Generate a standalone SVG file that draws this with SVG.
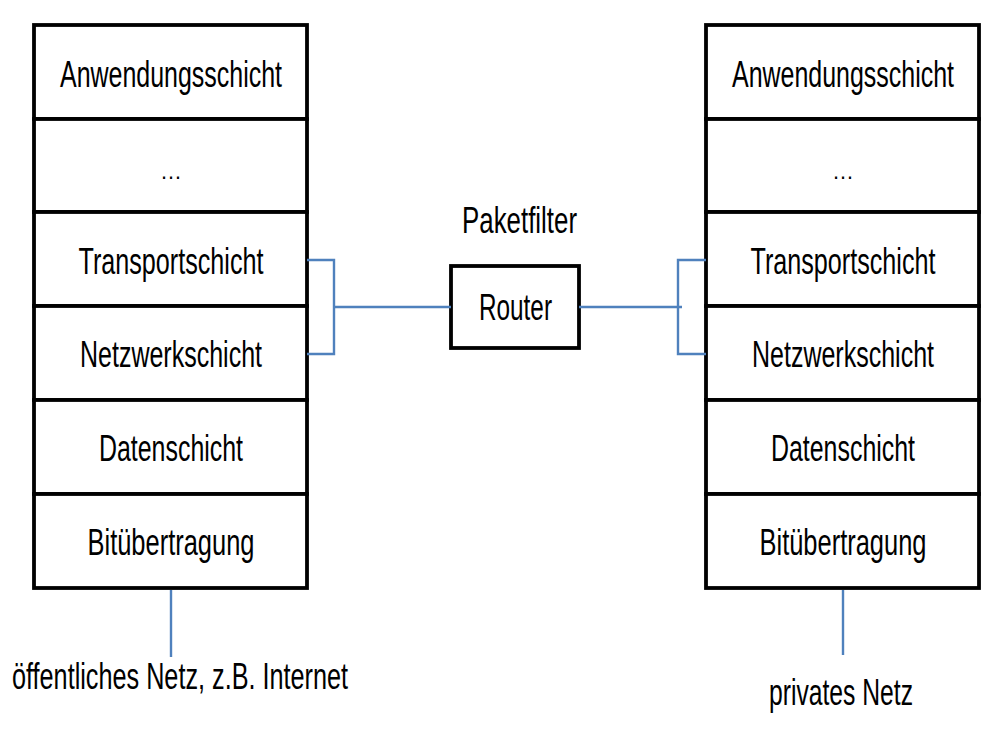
<svg xmlns="http://www.w3.org/2000/svg" width="998" height="738" viewBox="0 0 998 738">
<style>
.layer{fill:#fff;stroke:#000;stroke-width:3.8}
.t{font-family:"Liberation Sans",Arial,sans-serif;font-size:30px;fill:#000;text-anchor:middle}
.d{font-family:"Liberation Sans",Arial,sans-serif;font-size:22px;fill:#000;text-anchor:middle}
.c{fill:none;stroke:#4f81bd;stroke-width:2.4}
</style>
<rect width="998" height="738" fill="#fff"/>
<g id="left-stack">
<g id="l-app"><rect class="layer" x="34" y="25" width="273" height="94"/><text class="t" transform="translate(171,87) scale(1,1.2)" textLength="222" lengthAdjust="spacingAndGlyphs">Anwendungsschicht</text></g>
<g id="l-dots"><rect class="layer" x="34" y="119" width="273" height="93"/><text class="d" x="171" y="179">…</text></g>
<g id="l-trans"><rect class="layer" x="34" y="212" width="273" height="94"/><text class="t" transform="translate(171,274) scale(1,1.2)" textLength="185" lengthAdjust="spacingAndGlyphs">Transportschicht</text></g>
<g id="l-net"><rect class="layer" x="34" y="306" width="273" height="94"/><text class="t" transform="translate(171,367) scale(1,1.2)" textLength="182" lengthAdjust="spacingAndGlyphs">Netzwerkschicht</text></g>
<g id="l-data"><rect class="layer" x="34" y="400" width="273" height="94"/><text class="t" transform="translate(171,461) scale(1,1.2)" textLength="144" lengthAdjust="spacingAndGlyphs">Datenschicht</text></g>
<g id="l-bit"><rect class="layer" x="34" y="494" width="273" height="94"/><text class="t" transform="translate(171,555) scale(1,1.2)" textLength="167" lengthAdjust="spacingAndGlyphs">Bitübertragung</text></g>
</g>
<g id="right-stack">
<g id="r-app"><rect class="layer" x="706" y="25" width="273" height="94"/><text class="t" transform="translate(843,87) scale(1,1.2)" textLength="222" lengthAdjust="spacingAndGlyphs">Anwendungsschicht</text></g>
<g id="r-dots"><rect class="layer" x="706" y="119" width="273" height="93"/><text class="d" x="843" y="179">…</text></g>
<g id="r-trans"><rect class="layer" x="706" y="212" width="273" height="94"/><text class="t" transform="translate(843,274) scale(1,1.2)" textLength="185" lengthAdjust="spacingAndGlyphs">Transportschicht</text></g>
<g id="r-net"><rect class="layer" x="706" y="306" width="273" height="94"/><text class="t" transform="translate(843,367) scale(1,1.2)" textLength="182" lengthAdjust="spacingAndGlyphs">Netzwerkschicht</text></g>
<g id="r-data"><rect class="layer" x="706" y="400" width="273" height="94"/><text class="t" transform="translate(843,461) scale(1,1.2)" textLength="144" lengthAdjust="spacingAndGlyphs">Datenschicht</text></g>
<g id="r-bit"><rect class="layer" x="706" y="494" width="273" height="94"/><text class="t" transform="translate(843,555) scale(1,1.2)" textLength="167" lengthAdjust="spacingAndGlyphs">Bitübertragung</text></g>
</g>
<g id="router"><rect class="layer" x="451" y="266" width="128" height="82"/><text class="t" transform="translate(515.5,320) scale(1,1.2)" textLength="73" lengthAdjust="spacingAndGlyphs">Router</text></g>
<g id="label-paketfilter"><text class="t" transform="translate(519.5,233) scale(1,1.2)" textLength="115" lengthAdjust="spacingAndGlyphs">Paketfilter</text></g>
<g id="label-public"><text class="t" transform="translate(180,689) scale(1,1.2)" textLength="336" lengthAdjust="spacingAndGlyphs">öffentliches Netz, z.B. Internet</text></g>
<g id="label-private"><text class="t" transform="translate(841,705) scale(1,1.2)" textLength="144" lengthAdjust="spacingAndGlyphs">privates Netz</text></g>
<g id="connectors">
<polyline class="c" points="307,260 334,260 334,354 307,354"/>
<line class="c" x1="333" y1="307" x2="451" y2="307"/>
<line class="c" x1="579" y1="307" x2="682" y2="307"/>
<polyline class="c" points="706,260 678,260 678,354 706,354"/>
<line class="c" x1="171" y1="590" x2="171" y2="657"/>
<line class="c" x1="843" y1="590" x2="843" y2="655"/>
</g>
</svg>
